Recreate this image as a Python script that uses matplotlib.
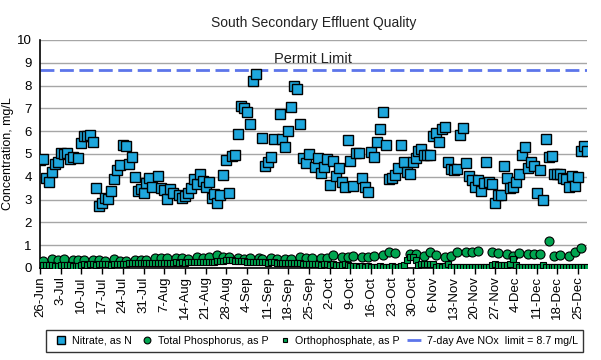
import numpy as np
import matplotlib
matplotlib.use("Agg")
import matplotlib.pyplot as plt

# days counted from 26-Jun
nitrate_day = [0, 1, 2, 3, 4, 5, 6, 7, 8, 9, 10, 11, 13, 14, 15, 16, 17, 18, 19, 20,
               21, 22, 23, 24, 25, 26, 27, 28, 29, 30, 31,
               32, 33, 34, 35, 36, 37, 38, 40, 41, 42, 43, 44, 45, 47, 48, 49, 50, 51, 52,
               53, 54, 55, 56, 57, 58, 59, 60, 61, 62, 63, 64, 65, 66,
               67, 68, 69, 70, 71, 72, 73, 75, 76, 77, 78, 79, 81, 82, 83, 84, 85, 86, 87,
               88, 89, 90, 91,
               93, 94, 95, 96, 97, 98, 99, 100, 101, 102, 103, 104, 105, 106, 107, 108, 109,
               110, 111, 112, 113, 114, 115, 116, 117, 118, 119, 120, 121, 122, 123, 124, 125,
               126, 127, 128, 129, 130, 131, 132, 133, 134, 135, 136, 137, 138, 139,
               140, 141, 142, 143, 144, 145, 146, 147, 148, 149, 150, 151, 152, 153, 154, 155,
               156, 157, 158, 159, 160, 161, 162, 163, 164, 165, 166, 167, 168, 169, 170, 171,
               172, 173, 174, 175, 176, 177, 178, 179, 180, 181, 182, 183, 184, 185]
nitrate = [4.74, 4.78, 3.95, 3.77, 4.2, 4.55, 4.65, 5.04, 5.0, 5.04, 4.78, 4.87, 4.82, 5.48,
           5.79, 5.8, 5.83, 5.53, 3.5, 2.72, 2.85, 3.07, 3.03, 3.38, 3.9, 4.3, 4.52, 5.39,
           5.35, 4.56, 4.87,
           4.0, 3.38, 3.45, 3.29, 3.73, 3.93, 3.57, 4.04, 3.5, 3.4, 3.03, 3.45, 3.29, 3.2,
           3.07, 3.16, 3.29, 3.5, 3.9, 3.68, 4.12, 3.82, 3.55, 3.77, 3.07, 3.25, 2.85, 3.2,
           4.08, 4.74, 3.29, 4.91, 4.96,
           5.88, 7.1, 7.0, 6.84, 6.3, 8.2, 8.5, 5.7, 4.47, 4.65, 4.87, 5.66, 6.75, 5.66, 5.3,
           6.0, 7.06, 7.98, 7.85, 6.3, 4.82, 4.6, 5.0,
           4.43, 4.82, 4.17, 4.43, 4.78, 3.64, 4.69, 4.04, 4.39, 3.77, 3.55, 5.61, 4.69, 3.6,
           5.04, 5.04, 3.95, 3.55, 3.33, 5.09, 4.87, 5.53, 6.1, 6.84, 5.39, 3.9, 3.95, 4.08,
           4.39, 5.39, 4.65, 4.2, 4.12, 4.65, 4.82, 5.13, 5.22, 4.96, 4.96, 4.96, 5.79, 5.92,
           5.53, 6.1, 6.18, 4.65, 4.34,
           4.3, 4.34, 5.83, 6.14, 4.6, 4.04, 3.86, 3.55, 3.86, 3.38, 3.73, 4.65, 3.77, 3.68,
           2.85, 3.2, 3.2, 4.47, 3.95, 3.5, 3.55, 3.77, 4.12, 4.96, 5.3, 4.39, 4.65, 4.47,
           3.29, 4.3, 2.98, 5.66, 4.87, 4.91, 4.12, 4.12, 4.12, 3.95, 3.9, 3.55, 4.04, 3.6,
           3.99, 5.13, 5.35, 5.13]

tp_day = [1, 4, 6, 8, 11, 13, 15, 18, 20, 22, 25, 27, 29, 32, 34, 36, 39, 41, 43, 46,
          48, 50, 53, 55, 57, 60, 62, 64, 67, 69, 71, 74, 75, 78, 80, 83, 85, 88, 90, 92,
          95, 97, 99, 102, 104, 106, 109, 111, 113, 116, 118, 120, 125, 127, 130, 132, 134,
          137, 139, 141, 144, 146, 148, 153, 155, 158, 160, 162, 165, 167, 169, 172, 174,
          176, 179, 181, 183]
total_p = [0.31, 0.39, 0.34, 0.39, 0.37, 0.34, 0.34, 0.34, 0.34, 0.31, 0.38, 0.32, 0.31,
           0.37, 0.35, 0.35, 0.45, 0.42, 0.42, 0.44, 0.42, 0.39, 0.49, 0.45, 0.48, 0.55,
           0.49, 0.48, 0.42, 0.41, 0.42, 0.42, 0.41, 0.42, 0.41, 0.39, 0.39, 0.49, 0.42,
           0.44,
           0.45, 0.42, 0.57, 0.47, 0.5, 0.53, 0.47, 0.47, 0.54, 0.57, 0.69, 0.64, 0.6, 0.63,
           0.54, 0.72, 0.57, 0.48, 0.54, 0.72, 0.72, 0.72, 0.76, 0.72, 0.64, 0.61, 0.54,
           0.64, 0.63, 0.6, 0.6, 1.2, 0.54, 0.57, 0.51, 0.72, 0.86]

# orthophosphate, daily from 26-Jun (one row per week)
ortho = [0.13, 0.15, 0.12, 0.14, 0.13, 0.08, 0.09, 0.14, 0.15, 0.13, 0.14, 0.09, 0.08, 0.09,
         0.15, 0.16, 0.15, 0.17, 0.16, 0.15, 0.17, 0.18, 0.16, 0.17, 0.15, 0.16, 0.18, 0.17,
         0.19, 0.18, 0.2, 0.21, 0.22, 0.22, 0.21, 0.23, 0.22, 0.22, 0.24, 0.22, 0.23, 0.22,
         0.24, 0.23, 0.22, 0.24, 0.25, 0.24, 0.25, 0.24, 0.26, 0.25, 0.27, 0.26, 0.25, 0.27,
         0.28, 0.27, 0.26, 0.28, 0.3, 0.32, 0.31, 0.35, 0.34, 0.33, 0.3, 0.31, 0.3, 0.29,
         0.28, 0.27, 0.28, 0.26, 0.27, 0.26, 0.25, 0.24, 0.26, 0.25, 0.23, 0.22, 0.24, 0.23,
         0.22, 0.2, 0.21, 0.2, 0.22, 0.18, 0.17, 0.18, 0.16, 0.17, 0.16, 0.15, 0.17, 0.16,
         0.15, 0.16, 0.14, 0.13, 0.14, 0.16, 0.15, 0.08, 0.07, 0.08, 0.06, 0.07, 0.06, 0.07,
         0.06, 0.06, 0.04, 0.07, 0.06, 0.06, 0.05, 0.07, 0.06, 0.06, 0.08, 0.12, 0.35, 0.48,
         0.48, 0.34, 0.15, 0.18, 0.17, 0.18, 0.16, 0.17, 0.06, 0.07, 0.06, 0.07, 0.18, 0.04,
         0.03, 0.03, 0.04, 0.03, 0.03, 0.04, 0.03, 0.03, 0.04, 0.03, 0.03, 0.03, 0.04, 0.15,
         0.16, 0.15, 0.14, 0.15, 0.15, 0.16, 0.38, 0.12, 0.05, 0.04, 0.04, 0.03, 0.04, 0.03,
         0.04, 0.04, 0.15, 0.04, 0.03, 0.03, 0.04, 0.03, 0.03, 0.03, 0.03, 0.04, 0.03, 0.03,
         0.03, 0.03, 0.03, 0.03]

permit_limit = 8.7

tick_day = [0, 7, 14, 21, 28, 35, 42, 49, 56, 63, 70, 77, 84, 91, 98, 105, 112, 119, 126,
            133, 140, 147, 154, 161, 168, 175, 182]
tick_labels = ["26-Jun", "3-Jul", "10-Jul", "17-Jul", "24-Jul", "31-Jul", "7-Aug", "14-Aug",
               "21-Aug", "28-Aug", "4-Sep", "11-Sep", "18-Sep", "25-Sep", "2-Oct", "9-Oct",
               "16-Oct", "23-Oct", "30-Oct", "6-Nov", "13-Nov", "20-Nov", "27-Nov", "4-Dec",
               "11-Dec", "18-Dec", "25-Dec"]

plt.rcParams['font.family'] = ['Liberation Sans', 'DejaVu Sans']

fig = plt.figure(figsize=(6.01, 3.6), dpi=100)
ax = fig.add_axes([0.0666, 0.2556, 0.9101, 0.6333])

ax.set_xlim(0, 185)
ax.set_ylim(0, 10)
ax.set_yticks(range(0, 11))
ax.grid(axis='y', color='#a6a6a6', lw=1)
ax.set_axisbelow(True)
for s in ['top', 'right']:
    ax.spines[s].set_visible(False)
ax.spines['left'].set_linewidth(1.2)
ax.spines['bottom'].set_linewidth(1.2)

ax.plot([0, 185], [permit_limit, permit_limit], color='#4a66e8', lw=2,
        dashes=(5, 2), alpha=0.9, label='7-day Ave NOx  limit = 8.7 mg/L', zorder=2)

ax.plot(tp_day, total_p, 'o', color='#00a550', mec='black', mew=0.8, ms=6.5,
        label='Total Phosphorus, as P', zorder=3)
ax.plot(range(len(ortho)), ortho, 's', color='#00a550', mec='black', mew=0.8, ms=3.8,
        label='Orthophosphate, as P', zorder=4)
ax.plot(nitrate_day, nitrate, 's', color='#1ea7dd', mec='black', mew=1, ms=7,
        label='Nitrate, as N', zorder=5)

ax.text(79, 9.0, 'Permit Limit', fontsize=10.5, color='#222222')

ax.set_xticks(tick_day)
ax.set_xticklabels(tick_labels, rotation=90, fontsize=9.5)
ax.tick_params(axis='x', length=4, width=1, pad=2)
ax.tick_params(axis='y', length=0, labelsize=9.5, pad=6)
ax.set_ylabel('Concentration, mg/L', fontsize=9, labelpad=2)
ax.set_title('South Secondary Effluent Quality', fontsize=10, pad=9, color='#222222')

handles, labels = ax.get_legend_handles_labels()
order = [3, 1, 2, 0]
leg = fig.legend([handles[i] for i in order], [labels[i] for i in order],
                 loc='center', bbox_to_anchor=(0.524, 0.053), ncol=4, fontsize=7.7,
                 frameon=True, fancybox=False, edgecolor='black', handlelength=1.6,
                 handletextpad=0.2, columnspacing=0.7, borderpad=0.55, markerscale=0.75)
leg.get_frame().set_linewidth(1)

fig.savefig('out.png', dpi=100)
